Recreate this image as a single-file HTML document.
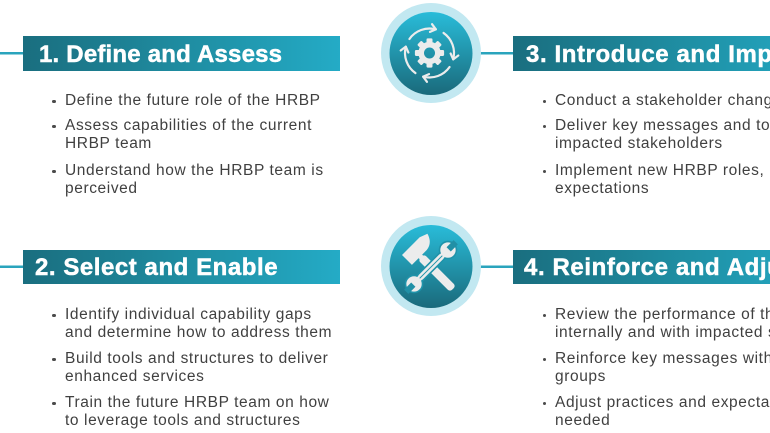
<!DOCTYPE html>
<html>
<head>
<meta charset="utf-8">
<style>
  html, body { margin:0; padding:0; width:770px; height:433px; overflow:hidden; background:#fff; }
  body { position:relative; font-family:"Liberation Sans", sans-serif; }
  .banner { position:absolute; height:35px; width:317px; background:linear-gradient(90deg,#1a6e7f 0%,#1f8fa4 55%,#24abc6 100%); }
  .title { position:absolute; font-weight:bold; font-size:24px; line-height:24px; color:#fff; white-space:nowrap; letter-spacing:0.2px; -webkit-text-stroke:0.5px #fff; }
  .li { position:absolute; font-size:15.5px; line-height:18px; letter-spacing:0.6px; color:#404040; white-space:nowrap; }
  .dot { position:absolute; width:3.6px; height:3.6px; border-radius:50%; background:#4a4a4a; }
  .clip { position:absolute; left:470px; top:0; width:300px; height:433px; overflow:hidden; }
</style>
</head>
<body>

<svg width="770" height="433" style="position:absolute;left:0;top:0">
  <defs>
    <linearGradient id="cg" x1="0" y1="0" x2="0" y2="1">
      <stop offset="0" stop-color="#29bcd9"/>
      <stop offset="1" stop-color="#1a6a7b"/>
    </linearGradient>
    <mask id="gearmask">
      <rect x="400" y="20" width="60" height="70" fill="#fff"/>
      <circle cx="429.5" cy="53" r="5.5" fill="#000"/>
    </mask>
  </defs>

  <!-- connector lines -->
  <rect x="0" y="52" width="24" height="2.5" fill="#2aa4bd"/>
  <rect x="0" y="265.5" width="24" height="2.5" fill="#2aa4bd"/>
  <rect x="470" y="52" width="44" height="2.5" fill="#2aa4bd"/>
  <rect x="470" y="265.5" width="44" height="2.5" fill="#2aa4bd"/>

  <!-- circles -->
  <circle cx="431" cy="53" r="50" fill="#c2e8f1"/>
  <circle cx="431" cy="53.5" r="41.5" fill="url(#cg)"/>
  <circle cx="431" cy="266" r="50" fill="#c2e8f1"/>
  <circle cx="431" cy="266.5" r="41.5" fill="url(#cg)"/>

  <!-- gear icon -->
  <g mask="url(#gearmask)" fill="#ececec">
    <circle cx="429.5" cy="53" r="11.2"/>
    <g transform="translate(429.5,53)">
      <rect x="-3" y="-14.6" width="6" height="7" rx="1.2"/>
      <rect x="-3" y="-14.6" width="6" height="7" rx="1.2" transform="rotate(45)"/>
      <rect x="-3" y="-14.6" width="6" height="7" rx="1.2" transform="rotate(90)"/>
      <rect x="-3" y="-14.6" width="6" height="7" rx="1.2" transform="rotate(135)"/>
      <rect x="-3" y="-14.6" width="6" height="7" rx="1.2" transform="rotate(180)"/>
      <rect x="-3" y="-14.6" width="6" height="7" rx="1.2" transform="rotate(225)"/>
      <rect x="-3" y="-14.6" width="6" height="7" rx="1.2" transform="rotate(270)"/>
      <rect x="-3" y="-14.6" width="6" height="7" rx="1.2" transform="rotate(315)"/>
    </g>
  </g>
  <!-- circular arrows -->
  <g transform="translate(429.5,53)" fill="none" stroke="#ececec" stroke-width="2.2" stroke-linecap="round" stroke-linejoin="round">
    <g>
      <path d="M -20.07 -14.05 A 24.5 24.5 0 0 1 6.34 -23.67"/>
      <polyline points="2.55,-28.82 6.34,-23.67 0.48,-21.10"/>
    </g>
    <g transform="rotate(90)">
      <path d="M -20.07 -14.05 A 24.5 24.5 0 0 1 6.34 -23.67"/>
      <polyline points="2.55,-28.82 6.34,-23.67 0.48,-21.10"/>
    </g>
    <g transform="rotate(180)">
      <path d="M -20.07 -14.05 A 24.5 24.5 0 0 1 6.34 -23.67"/>
      <polyline points="2.55,-28.82 6.34,-23.67 0.48,-21.10"/>
    </g>
    <g transform="rotate(270)">
      <path d="M -20.07 -14.05 A 24.5 24.5 0 0 1 6.34 -23.67"/>
      <polyline points="2.55,-28.82 6.34,-23.67 0.48,-21.10"/>
    </g>
  </g>

  <!-- hammer -->
  <g transform="translate(431,267) rotate(45)" fill="#ececec">
    <rect x="-14" y="-4.2" width="45" height="8.4" rx="3"/>
    <path d="M -29 12 L -15 12 L -15 -9 Q -16 -18 -26 -21 L -29 -13 Z"/>
    <rect x="-16" y="-2.5" width="4" height="5" fill="#ececec"/>
  </g>
  <!-- wrench -->
  <g transform="translate(431,267) rotate(-45)">
    <g fill="#ececec" stroke="#1f93aa" stroke-width="1.6">
      <rect x="-24" y="-3.8" width="48" height="7.6" rx="1"/>
      <circle cx="24" cy="0" r="8.5"/>
      <circle cx="-24" cy="0" r="8.5"/>
    </g>
    <rect x="-20" y="-2.7" width="40" height="5.4" fill="#ececec"/>
    <rect x="-16" y="-0.5" width="32" height="1" fill="#1f93aa"/>
    <rect x="25" y="-3" width="10" height="6" fill="#2190a6"/>
    <rect x="-35" y="-3" width="10" height="6" fill="#2190a6"/>
  </g>
</svg>

<!-- Left banners -->
<div class="banner" style="left:23px;top:36px;"></div>
<div class="title" style="left:39px;top:42.5px;">1. Define and Assess</div>

<div class="banner" style="left:23px;top:250px;height:34px;"></div>
<div class="title" style="left:35px;top:255.7px;letter-spacing:0.55px;">2. Select and Enable</div>

<!-- Section 1 -->
<div class="dot" style="left:52px;top:99.5px;"></div>
<div class="li" style="left:65px;top:91.6px;">Define the future role of the HRBP</div>
<div class="dot" style="left:52px;top:124.5px;"></div>
<div class="li" style="left:65px;top:116.6px;">Assess capabilities of the current</div>
<div class="li" style="left:65px;top:134.6px;">HRBP team</div>
<div class="dot" style="left:52px;top:169.5px;"></div>
<div class="li" style="left:65px;top:161.6px;">Understand how the HRBP team is</div>
<div class="li" style="left:65px;top:179.6px;">perceived</div>

<!-- Section 2 -->
<div class="dot" style="left:52px;top:313.5px;"></div>
<div class="li" style="left:65px;top:305.6px;">Identify individual capability gaps</div>
<div class="li" style="left:65px;top:323.6px;">and determine how to address them</div>
<div class="dot" style="left:52px;top:357.5px;"></div>
<div class="li" style="left:65px;top:349.6px;">Build tools and structures to deliver</div>
<div class="li" style="left:65px;top:367.6px;">enhanced services</div>
<div class="dot" style="left:52px;top:401.5px;"></div>
<div class="li" style="left:65px;top:393.6px;">Train the future HRBP team on how</div>
<div class="li" style="left:65px;top:411.6px;">to leverage tools and structures</div>

<!-- Right side (clipped at frame edge) -->
<div class="clip">
  <div class="banner" style="left:43px;top:36px;"></div>
  <div class="title" style="left:56px;top:42.5px;letter-spacing:0.6px;">3. Introduce and Implement</div>

  <div class="banner" style="left:43px;top:250px;height:34px;"></div>
  <div class="title" style="left:54px;top:255.7px;letter-spacing:0.6px;">4. Reinforce and Adjust</div>

  <!-- Section 3 -->
  <div class="dot" style="left:72.5px;top:99.5px;"></div>
  <div class="li" style="left:85px;top:91.6px;">Conduct a stakeholder change assessment</div>
  <div class="dot" style="left:72.5px;top:124.5px;"></div>
  <div class="li" style="left:85px;top:116.6px;">Deliver key messages and tools to</div>
  <div class="li" style="left:85px;top:134.6px;">impacted stakeholders</div>
  <div class="dot" style="left:72.5px;top:169.5px;"></div>
  <div class="li" style="left:85px;top:161.6px;">Implement new HRBP roles, processes and</div>
  <div class="li" style="left:85px;top:179.6px;">expectations</div>

  <!-- Section 4 -->
  <div class="dot" style="left:72.5px;top:313.5px;"></div>
  <div class="li" style="left:85px;top:305.6px;">Review the performance of the HRBP team both</div>
  <div class="li" style="left:85px;top:323.6px;">internally and with impacted stakeholders</div>
  <div class="dot" style="left:72.5px;top:357.5px;"></div>
  <div class="li" style="left:85px;top:349.6px;">Reinforce key messages with stakeholder</div>
  <div class="li" style="left:85px;top:367.6px;">groups</div>
  <div class="dot" style="left:72.5px;top:401.5px;"></div>
  <div class="li" style="left:85px;top:393.6px;">Adjust practices and expectations as</div>
  <div class="li" style="left:85px;top:411.6px;">needed</div>
</div>

</body>
</html>
